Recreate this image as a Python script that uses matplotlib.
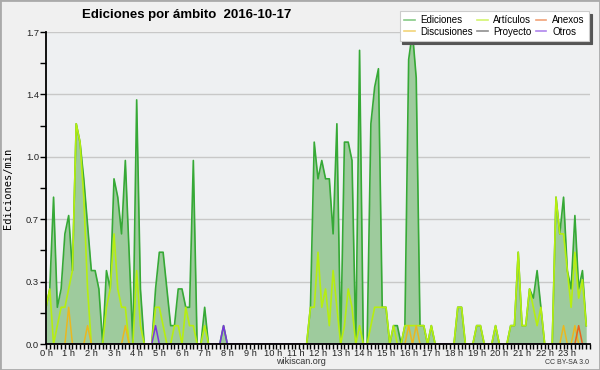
import numpy as np
import matplotlib
matplotlib.use('Agg')
import matplotlib.pyplot as plt
from matplotlib.patches import Rectangle
from matplotlib.lines import Line2D

# ---- data: 10-minute bins over the day, values in edits/min ----
ediciones = [
    0.2, 0.3, 0.8, 0.2, 0.3, 0.6, 0.7, 0.4, 1.2, 1.1, 0.9, 0.65,   # 0h-2h
    0.4, 0.4, 0.3, 0.0, 0.4, 0.3, 0.9, 0.8, 0.6, 1.0, 0.5, 0.0,     # 2h-4h
    1.33, 0.3, 0.0, 0.0, 0.0, 0.3, 0.5, 0.5, 0.3, 0.1, 0.1, 0.3,    # 4h-6h
    0.3, 0.2, 0.2, 1.0, 0.0, 0.0, 0.2, 0.0, 0.0, 0.0, 0.0, 0.1,     # 6h-8h
    0.0, 0.0, 0.0, 0.0, 0.0, 0.0, 0.0, 0.0, 0.0, 0.0, 0.0, 0.0,     # 8h-10h
    0.0, 0.0, 0.0, 0.0, 0.0, 0.0, 0.0, 0.0, 0.0, 0.0, 0.2, 1.1,     # 10h-12h
    0.9, 1.0, 0.9, 0.9, 0.6, 1.2, 0.0, 1.1, 1.1, 1.0, 0.0, 1.6,     # 12h-14h
    0.0, 0.0, 1.2, 1.4, 1.5, 0.2, 0.2, 0.0, 0.1, 0.1, 0.0, 0.1,     # 14h-16h
    1.55, 1.7, 1.45, 0.1, 0.1, 0.0, 0.1, 0.0, 0.0, 0.0, 0.0, 0.0,   # 16h-18h
    0.0, 0.2, 0.2, 0.0, 0.0, 0.0, 0.1, 0.1, 0.0, 0.0, 0.0, 0.1,     # 18h-20h
    0.0, 0.0, 0.0, 0.1, 0.1, 0.5, 0.1, 0.1, 0.3, 0.25, 0.4, 0.2,    # 20h-22h
    0.0, 0.0, 0.0, 0.8, 0.6, 0.8, 0.4, 0.3, 0.7, 0.3, 0.4, 0.1,     # 22h-24h
]
articulos = [
    0.2, 0.3, 0.0, 0.1, 0.2, 0.2, 0.3, 0.4, 1.2, 1.1, 0.8, 0.3,
    0.0, 0.0, 0.0, 0.0, 0.2, 0.3, 0.6, 0.3, 0.2, 0.2, 0.0, 0.0,
    0.4, 0.1, 0.0, 0.0, 0.0, 0.2, 0.2, 0.1, 0.0, 0.0, 0.1, 0.1,
    0.0, 0.2, 0.1, 0.1, 0.0, 0.0, 0.1, 0.0, 0.0, 0.0, 0.0, 0.0,
    0.0, 0.0, 0.0, 0.0, 0.0, 0.0, 0.0, 0.0, 0.0, 0.0, 0.0, 0.0,
    0.0, 0.0, 0.0, 0.0, 0.0, 0.0, 0.0, 0.0, 0.0, 0.0, 0.2, 0.2,
    0.5, 0.2, 0.3, 0.1, 0.4, 0.2, 0.0, 0.1, 0.3, 0.2, 0.0, 0.1,
    0.0, 0.0, 0.1, 0.2, 0.2, 0.2, 0.2, 0.0, 0.1, 0.0, 0.0, 0.1,
    0.1, 0.1, 0.1, 0.1, 0.1, 0.0, 0.1, 0.0, 0.0, 0.0, 0.0, 0.0,
    0.0, 0.2, 0.2, 0.0, 0.0, 0.0, 0.1, 0.1, 0.0, 0.0, 0.0, 0.1,
    0.0, 0.0, 0.0, 0.1, 0.1, 0.5, 0.1, 0.1, 0.3, 0.2, 0.1, 0.2,
    0.0, 0.0, 0.0, 0.8, 0.6, 0.6, 0.4, 0.2, 0.5, 0.25, 0.35, 0.1,
]
# sparse series: {bin index: value}
discusiones_pts = {6: 0.2, 11: 0.1, 21: 0.1, 96: 0.1, 98: 0.1, 137: 0.1, 140: 0.1}
anexos_pts = {141: 0.1}
otros_pts = {29: 0.1, 47: 0.1}
proyecto_pts = {}

hour_labels = [f"{h} h" for h in range(24)]
series_names = ["Ediciones", "Discusiones", "Artículos", "Proyecto", "Anexos", "Otros"]

n = len(ediciones)
t = np.arange(n) / 6.0  # hours


def dense(pts):
    arr = np.zeros(n)
    for k, v in pts.items():
        arr[k] = v
    return arr


discusiones = dense(discusiones_pts)
anexos = dense(anexos_pts)
otros = dense(otros_pts)
proyecto = dense(proyecto_pts)

colors = {
    "Ediciones": "#36a936",
    "Artículos": "#b6ee10",
    "Discusiones": "#eab820",
    "Anexos": "#e8641e",
    "Proyecto": "#444444",
    "Otros": "#7a34e0",
}

FONT = "Liberation Sans"

fig = plt.figure(figsize=(6, 3.7), dpi=100, facecolor="#f0f0f0")
ax = fig.add_axes([46 / 600, 26 / 370, 544 / 600, 312 / 370])
ax.set_facecolor("#eef0f2")

ymax = 1.7
ax.fill_between(t, ediciones, 0, color="#9ecb9d", lw=0, zorder=2)
ax.plot(t, proyecto, color=colors["Proyecto"], lw=1.1, zorder=3)
ax.plot(t, ediciones, color=colors["Ediciones"], lw=1.2, zorder=4)
ax.plot(t, articulos, color=colors["Artículos"], lw=1.2, zorder=5)
ax.plot(t, discusiones, color=colors["Discusiones"], lw=1.1, zorder=6)
ax.plot(t, anexos, color=colors["Anexos"], lw=1.1, zorder=6)
ax.plot(t, otros, color=colors["Otros"], lw=1.1, zorder=6)

ax.set_xlim(0, 24)
ax.set_ylim(0, ymax)

major_y = np.linspace(0, ymax, 6)
minor_y = np.linspace(0, ymax, 11)
ax.set_yticks(major_y)
ax.set_yticklabels([f"{v:.1f}" for v in major_y])
ax.set_yticks(minor_y, minor=True)
ax.set_xticks(np.arange(24))
ax.set_xticklabels(hour_labels)
ax.set_xticks(np.arange(0, 24.01, 1 / 6), minor=True)

ax.grid(axis="y", which="major", color="#c8c8c8", lw=1, zorder=1)
ax.set_axisbelow(True)
for s in ("top", "right"):
    ax.spines[s].set_visible(False)
for s in ("left", "bottom"):
    ax.spines[s].set_color("black")
    ax.spines[s].set_linewidth(1.3)
    ax.spines[s].set_zorder(10)

ax.tick_params(axis="both", which="both", direction="out", color="black", width=1, labelsize=6.7,
               labelcolor="#222222")
ax.tick_params(axis="x", which="both", length=3.5, pad=0)
ax.tick_params(axis="y", which="both", length=4, pad=1)
for lab in ax.get_xticklabels() + ax.get_yticklabels():
    lab.set_family(FONT)

ax.set_ylabel("Ediciones/min", family="DejaVu Sans Mono", fontsize=7.5)
ax.yaxis.set_label_coords(-(46 - 13) / 544, 0.5)

fig.text(187 / 600, 1 - 15 / 370, "Ediciones por ámbito  2016-10-17", ha="center", va="center",
         fontsize=9.5, fontweight="bold", family=FONT)
fig.text(301 / 600, 1 - 362 / 370, "wikiscan.org", ha="center", va="center", fontsize=6.5,
         family=FONT, color="#333333")
fig.text(589 / 600, 1 - 362 / 370, "CC BY-SA 3.0", ha="right", va="center", fontsize=5,
         family=FONT, color="#333333")

handles = [Line2D([], [], color=colors[nm], lw=1.2, alpha=0.6) for nm in series_names]
leg = fig.legend(handles, series_names, ncol=3, loc="upper right",
                 bbox_to_anchor=(589 / 600, 1 - 11 / 370), frameon=True,
                 fancybox=False, shadow={"color": "#555555", "alpha": 1.0},
                 handlelength=1.1, handletextpad=0.6, columnspacing=0.4, labelspacing=0.15,
                 borderpad=0.45, borderaxespad=0, prop={"family": FONT, "size": 7})
leg.get_frame().set_edgecolor("#cccccc")
leg.get_frame().set_facecolor("white")
leg.get_frame().set_linewidth(0.8)
leg.set_zorder(20)

fig.patches.append(Rectangle((0, 0), 1, 1, transform=fig.transFigure, fill=False,
                             edgecolor="#aaaaaa", lw=2, zorder=30))

fig.savefig("out.png", dpi=100, facecolor=fig.get_facecolor())
